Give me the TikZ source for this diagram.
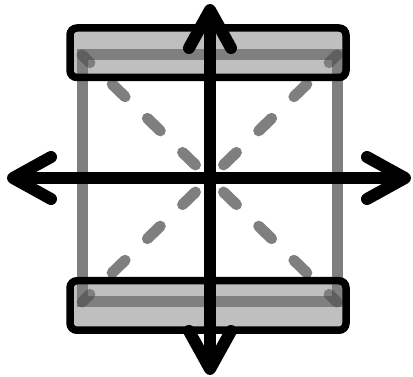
\documentclass[tikz,border=0pt]{standalone}
\usetikzlibrary{arrows.meta,calc}
\tikzset{barb/.tip={Straight Barb[round, length=38pt, width=42pt]}}
\begin{document}
\begin{tikzpicture}[x=1pt, y=-1pt,
  frame/.style={draw=black, draw opacity=0.5, line width=11pt},
  diag/.style={frame, line cap=round, dash pattern=on 18pt off 31pt, dash phase=7pt},
  bar/.style={draw, line width=7.5pt, rounded corners=7pt, fill=gray, fill opacity=0.5,
    minimum width=276pt, minimum height=49.5pt, inner sep=0pt},
  axis/.style={line width=12pt, line cap=round, barb-barb}]
  \useasboundingbox (0,0) rectangle (413,377);
  % corners of the square
  \coordinate (nw) at (82,55);
  \coordinate (ne) at (337,55);
  \coordinate (se) at (337,302);
  \coordinate (sw) at (82,302);
  \coordinate (mid) at ($(nw)!0.5!(se)$);
  % arrow ends
  \coordinate (north) at (210,4);
  \coordinate (south) at (210,375);
  \coordinate (west) at (7,178);
  \coordinate (east) at (411,178);
  \draw[frame] (nw) rectangle (se);
  \foreach \c in {nw,ne,se,sw}
    \draw[diag] (\c) -- (mid);
  \node[bar] (topbar) at (208,52.75) {};
  \node[bar] (bottombar) at (208,305.5) {};
  \draw[axis] (south) -- (north);
  \draw[axis] (west) -- (east);
\end{tikzpicture}
\end{document}
